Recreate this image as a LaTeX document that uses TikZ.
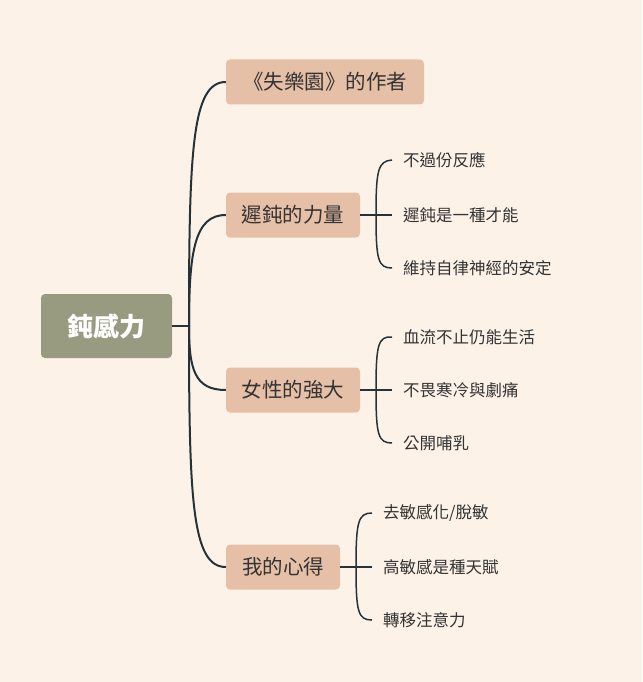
\documentclass[tikz,border=0pt]{standalone}
\usepackage{fontspec}
\setmainfont{Noto Sans CJK TC}
\usetikzlibrary{calc}
\begin{document}
\begin{tikzpicture}[x=1pt,y=-1pt,
  rootbox/.style={fill=rootc,rounded corners=4pt,minimum width=131pt,minimum height=64pt,text=white,font=\fontsize{26}{28}\selectfont\bfseries},
  br/.style={fill=brc,rounded corners=4pt,minimum height=45pt,text=txt,font=\fontsize{20.5}{23}\selectfont,inner xsep=12pt},
  leaf/.style={anchor=west,text=txt,font=\fontsize{16.5}{19}\selectfont,inner sep=0pt},
  ln/.style={draw=linec,line width=2pt},
  lf/.style={draw=linec,line width=1.5pt}]
\definecolor{bg}{HTML}{FDF2E8}
\definecolor{rootc}{HTML}{999B80}
\definecolor{brc}{HTML}{E6BFA7}
\definecolor{txt}{HTML}{333333}
\definecolor{linec}{HTML}{25323A}
\fill[bg] (0,0) rectangle (642,682);
\useasboundingbox (0,0) rectangle (642,682);
\node[rootbox] (r) at (106.5,326) {鈍感力};
\node[br,minimum width=198pt] (b1) at (325,82) {《失樂園》的作者};
\node[br,minimum width=134pt] (b2) at (293,215) {遲鈍的力量};
\node[br,minimum width=134pt] (b3) at (293,390) {女性的強大};
\node[br,minimum width=114pt] (b4) at (283,567) {我的心得};
\coordinate (t) at (189,326);
\draw[ln] (r.east) -- (t);
\draw[ln] (t) .. controls (189,150) and (192,82) .. (b1.west);
\draw[ln] (t) .. controls (189,250) and (195,215) .. (b2.west);
\draw[ln] (t) .. controls (189,370) and (195,390) .. (b3.west);
\draw[ln] (t) .. controls (189,500) and (192,567) .. (b4.west);
\node[leaf] (l1) at (403,160) {不過份反應};
\node[leaf] (l2) at (403,215) {遲鈍是一種才能};
\node[leaf] (l3) at (403,268) {維持自律神經的安定};
\node[leaf] (l4) at (403,337) {血流不止仍能生活};
\node[leaf] (l5) at (403,390) {不畏寒冷與劇痛};
\node[leaf] (l6) at (403,443) {公開哺乳};
\node[leaf] (l7) at (383,513) {去敏感化/脫敏};
\node[leaf] (l8) at (383,567) {高敏感是種天賦};
\node[leaf] (l9) at (383,620) {轉移注意力};
\coordinate (j2) at (376,215);
\coordinate (j3) at (376,390);
\coordinate (j4) at (356,567);
\draw[lf] (b2.east) -- (j2);
\draw[lf] (b3.east) -- (j3);
\draw[lf] (b4.east) -- (j4);
\foreach \j/\a/\b/\c in {j2/l1/l2/l3, j3/l4/l5/l6, j4/l7/l8/l9}{
  \draw[lf] (\j) .. controls ($(\j)+(0,-45)$) and ($(\j)+(2,-54)$) .. ($(\a.west)+(-11,0)$);
  \draw[lf] (\j) -- ($(\b.west)+(-11,0)$);
  \draw[lf] (\j) .. controls ($(\j)+(0,45)$) and ($(\j)+(2,53)$) .. ($(\c.west)+(-11,0)$);
}
\end{tikzpicture}
\end{document}
